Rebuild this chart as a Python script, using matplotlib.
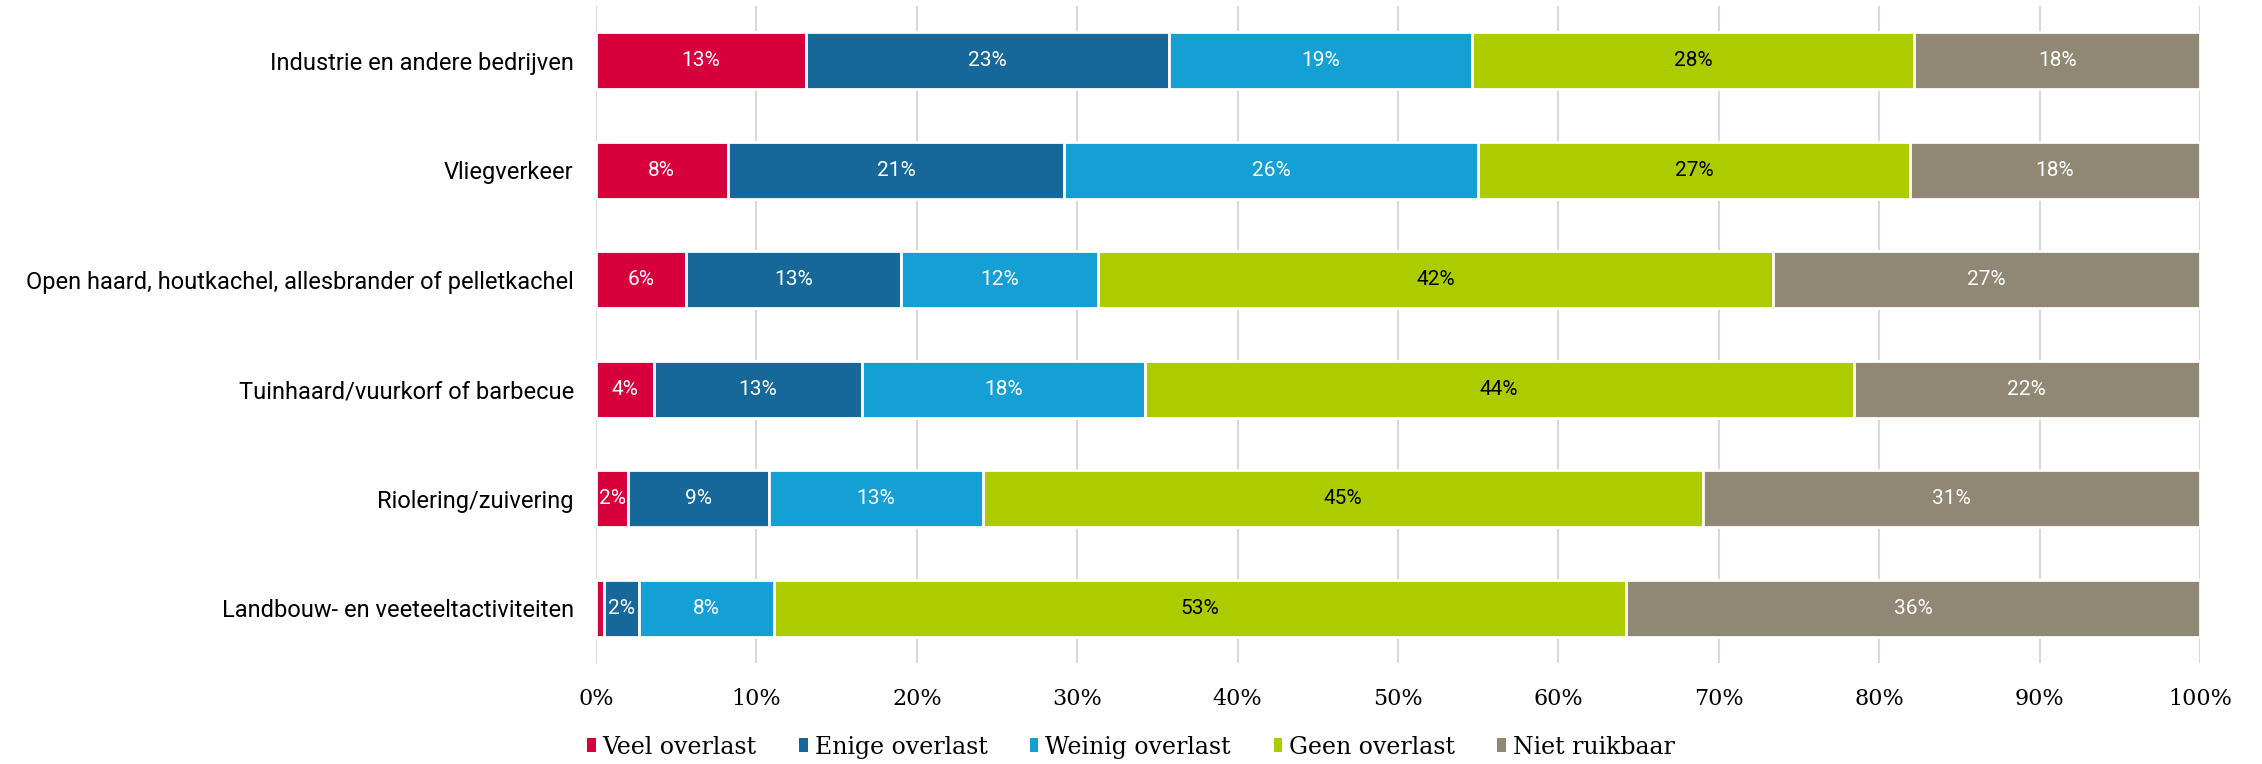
import matplotlib
matplotlib.use("Agg")
import matplotlib.pyplot as plt
from matplotlib.patches import Patch
import numpy as np

# Bronnen van geurhinder en aandeel per antwoordcategorie (%)
categories = [
    "Industrie en andere bedrijven",
    "Vliegverkeer",
    "Open haard, houtkachel, allesbrander of pelletkachel",
    "Tuinhaard/vuurkorf of barbecue",
    "Riolering/zuivering",
    "Landbouw- en veeteeltactiviteiten",
]
series_names = ["Veel overlast", "Enige overlast", "Weinig overlast", "Geen overlast", "Niet ruikbaar"]
veel = [13.1, 8.2, 5.6, 3.6, 2.0, 0.5]
enige = [22.6, 21.0, 13.4, 13.0, 8.8, 2.2]
weinig = [18.9, 25.8, 12.3, 17.6, 13.3, 8.4]
geen = [27.6, 26.9, 42.1, 44.2, 44.9, 53.1]
niet = [17.8, 18.1, 26.6, 21.6, 31.0, 35.8]
x_ticks = [0, 10, 20, 30, 40, 50, 60, 70, 80, 90, 100]

colors = ["#D7003C", "#17689A", "#14A0D5", "#ADCC00", "#908775"]
text_colors = ["white", "white", "white", "black", "white"]

fig = plt.figure(figsize=(22.62, 7.64), dpi=100)
ax = fig.add_axes([596 / 2262, 1 - 663 / 764, (2200 - 596) / 2262, (663 - 6) / 764])

y = np.arange(len(categories))
left = np.zeros(len(categories))
for name, vals, col, tcol in zip(series_names, [veel, enige, weinig, geen, niet], colors, text_colors):
    vals = np.array(vals)
    ax.barh(y, vals, left=left, height=0.52, color=col, edgecolor="white", linewidth=2, zorder=3)
    for yi, l, v in zip(y, left, vals):
        if v >= 1:
            ax.text(l + v / 2, yi, f"{v:.0f}%", ha="center", va="center",
                    color=tcol, fontsize=15, family="Roboto", zorder=4)
    left += vals

ax.set_xlim(0, 100)
ax.set_ylim(len(categories) - 0.5, -0.5)
ax.set_yticks(y)
ax.set_yticklabels(categories, family="Roboto", fontsize=17)
ax.set_xticks(x_ticks)
ax.set_xticklabels([f"{t}%" for t in x_ticks], family="DejaVu Serif", fontsize=16)
ax.tick_params(axis="both", length=0)
ax.tick_params(axis="y", pad=16)
ax.tick_params(axis="x", pad=18)
ax.grid(axis="x", color="#D9D9D9", linewidth=1.5, zorder=0)
ax.set_axisbelow(True)
for s in ax.spines.values():
    s.set_visible(False)

handles = [Patch(facecolor=c, edgecolor="none") for c in colors]
fig.legend(handles, series_names, loc="center", bbox_to_anchor=(0.5, 0.022), ncol=5,
           frameon=False, handlelength=0.35, handleheight=0.55, handletextpad=0.3,
           columnspacing=1.8, prop={"family": "DejaVu Serif", "size": 17})

fig.savefig("out.png", dpi=100)
